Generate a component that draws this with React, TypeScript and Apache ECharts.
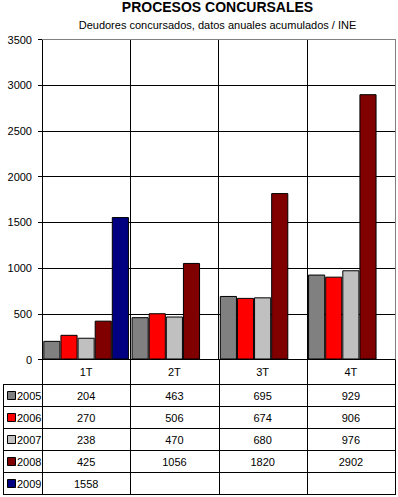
import React, { useEffect, useRef } from "react";
import * as echarts from "echarts";

const categories = ["1T", "2T", "3T", "4T"];
const years = ["2005", "2006", "2007", "2008", "2009"];
const v2005 = [204, 463, 695, 929];
const v2006 = [270, 506, 674, 906];
const v2007 = [238, 470, 680, 976];
const v2008 = [425, 1056, 1820, 2902];
const v2009: (number | null)[] = [1558, null, null, null];
const seriesValues = [v2005, v2006, v2007, v2008, v2009];
const colors = ["#808080", "#FF0000", "#C0C0C0", "#800000", "#000080"];
const yTicks = { min: 0, max: 3500, interval: 500 };

const FONT = "Arial, 'Liberation Sans', sans-serif";

export default function App() {
  const ref = useRef<HTMLDivElement>(null);
  useEffect(() => {
    if (!ref.current) return;
    const chart = echarts.init(ref.current, undefined, { renderer: "svg" });
    const gridLeft = 42;
    const gridRight = 395;
    const gridTop = 39.5;
    const plotBottom = 359.5;
    const W = 398;
    const H = 497;

    chart.setOption({
      animation: false,
      backgroundColor: "#ffffff",
      grid: {
        left: gridLeft,
        right: W - gridRight,
        top: gridTop,
        bottom: H - plotBottom,
        containLabel: false,
      },
      xAxis: {
        type: "category",
        data: categories,
        axisLine: { show: true, lineStyle: { color: "#000", width: 1 } },
        axisTick: { show: false },
        axisLabel: { color: "#000", fontSize: 11, fontFamily: FONT, margin: 7 },
        splitLine: { show: true, lineStyle: { color: "#000", width: 1 } },
      },
      yAxis: {
        type: "value",
        min: yTicks.min,
        max: yTicks.max,
        interval: yTicks.interval,
        axisLine: { show: true, lineStyle: { color: "#000", width: 1 } },
        axisTick: { show: true, length: 4, lineStyle: { color: "#000" } },
        axisLabel: {
          color: "#000",
          fontSize: 11,
          fontFamily: FONT,
          margin: 10,
          formatter: (v: number) => String(v),
        },
        splitLine: { show: true, lineStyle: { color: "#000", width: 1 } },
      },
      series: years.map((y, i) => ({
        name: y,
        type: "bar",
        data: seriesValues[i],
        barGap: "0%",
        barCategoryGap: "3%",
        itemStyle: { color: colors[i], borderColor: "#000", borderWidth: 1 },
      })),
    });

    const n = categories.length;
    const w = (gridRight - gridLeft) / n;
    const xb = Array.from({ length: n + 1 }, (_, i) => gridLeft + i * w);
    const rowTop = 384;
    const rowH = 22;
    const tableBottom = rowTop + rowH * years.length;
    const g: any[] = [];
    const line = (x1: number, y1: number, x2: number, y2: number, color = "#000") =>
      g.push({
        type: "line",
        z: 100,
        shape: { x1, y1, x2, y2 },
        style: { stroke: color, lineWidth: 1 },
      });

    // plot top and right border (gray)
    line(gridLeft, gridTop, gridRight + 0.5, gridTop, "#808080");
    line(gridRight + 0.5, gridTop, gridRight + 0.5, plotBottom, "#808080");

    // table verticals
    xb.forEach((x) => {
      const xx = Math.round(x) + 0.5;
      line(xx, plotBottom, xx, tableBottom + 0.5);
    });
    line(3.5, rowTop + 0.5, 3.5, tableBottom + 0.5);
    for (let k = 0; k <= years.length; k++) {
      const y = rowTop + k * rowH + 0.5;
      line(3, y, Math.round(xb[n]) + 1, y);
    }

    // table content
    years.forEach((yr, r) => {
      const cy = rowTop + r * rowH + rowH / 2 + 1;
      g.push({
        type: "rect",
        z: 100,
        shape: { x: 7.5, y: cy - 4.5, width: 8, height: 8 },
        style: { fill: colors[r], stroke: "#000", lineWidth: 1 },
      });
      g.push({
        type: "text",
        z: 100,
        x: 17,
        y: cy,
        style: {
          text: yr,
          fill: "#000",
          font: `11px ${FONT}`,
          textAlign: "left",
          textVerticalAlign: "middle",
        },
      });
      seriesValues[r].forEach((v, c) => {
        if (v == null) return;
        g.push({
          type: "text",
          z: 100,
          x: (xb[c] + xb[c + 1]) / 2,
          y: cy,
          style: {
            text: String(v),
            fill: "#000",
            font: `11px ${FONT}`,
            textAlign: "center",
            textVerticalAlign: "middle",
          },
        });
      });
    });

    // titles
    const cx = (gridLeft + gridRight) / 2 - 1;
    g.push({
      type: "text",
      z: 100,
      x: cx,
      y: 0,
      style: {
        text: "PROCESOS CONCURSALES",
        fill: "#000",
        font: `bold 14px ${FONT}`,
        textAlign: "center",
        textVerticalAlign: "top",
      },
    });
    g.push({
      type: "text",
      z: 100,
      x: cx,
      y: 19,
      style: {
        text: "Deudores concursados, datos anuales acumulados / INE",
        fill: "#000",
        font: `11px ${FONT}`,
        textAlign: "center",
        textVerticalAlign: "top",
      },
    });

    chart.setOption({ graphic: g });
    return () => chart.dispose();
  }, []);
  return (
    <div
      ref={ref}
      style={{ position: "fixed", left: 0, top: 0, width: 398, height: 497, background: "#fff" }}
    />
  );
}
